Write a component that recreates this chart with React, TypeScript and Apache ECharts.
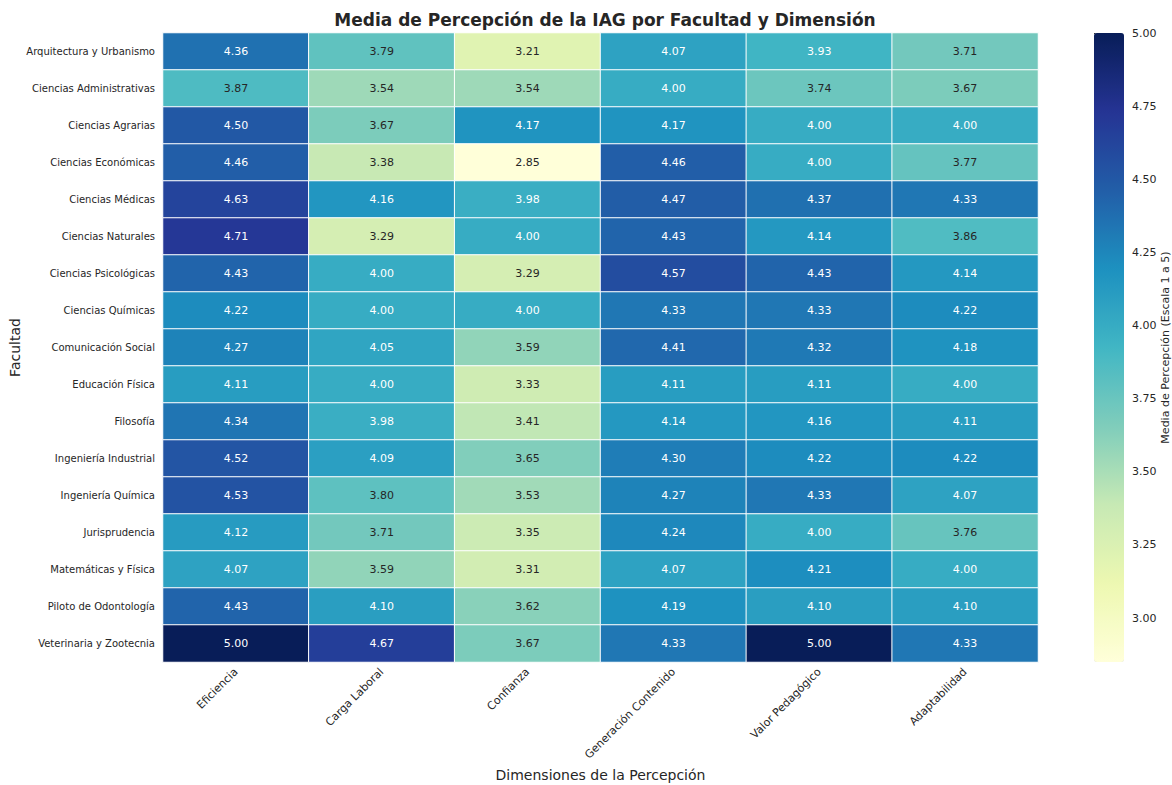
import React, { useEffect, useRef } from "react";
import * as echarts from "echarts";

const dimensions = ["Eficiencia", "Carga Laboral", "Confianza", "Generación Contenido", "Valor Pedagógico", "Adaptabilidad"];
const faculties = [
  "Arquitectura y Urbanismo",
  "Ciencias Administrativas",
  "Ciencias Agrarias",
  "Ciencias Económicas",
  "Ciencias Médicas",
  "Ciencias Naturales",
  "Ciencias Psicológicas",
  "Ciencias Químicas",
  "Comunicación Social",
  "Educación Física",
  "Filosofía",
  "Ingeniería Industrial",
  "Ingeniería Química",
  "Jurisprudencia",
  "Matemáticas y Física",
  "Piloto de Odontología",
  "Veterinaria y Zootecnia",
];
const eficiencia = [4.36, 3.87, 4.5, 4.46, 4.63, 4.71, 4.43, 4.22, 4.27, 4.11, 4.34, 4.52, 4.53, 4.12, 4.07, 4.43, 5.0];
const cargaLaboral = [3.79, 3.54, 3.67, 3.38, 4.16, 3.29, 4.0, 4.0, 4.05, 4.0, 3.98, 4.09, 3.8, 3.71, 3.59, 4.1, 4.67];
const confianza = [3.21, 3.54, 4.17, 2.85, 3.98, 4.0, 3.29, 4.0, 3.59, 3.33, 3.41, 3.65, 3.53, 3.35, 3.31, 3.62, 3.67];
const generacion = [4.07, 4.0, 4.17, 4.46, 4.47, 4.43, 4.57, 4.33, 4.41, 4.11, 4.14, 4.3, 4.27, 4.24, 4.07, 4.19, 4.33];
const valorPedagogico = [3.93, 3.74, 4.0, 4.0, 4.37, 4.14, 4.43, 4.33, 4.32, 4.11, 4.16, 4.22, 4.33, 4.0, 4.21, 4.1, 5.0];
const adaptabilidad = [3.71, 3.67, 4.0, 3.77, 4.33, 3.86, 4.14, 4.22, 4.18, 4.0, 4.11, 4.22, 4.07, 3.76, 4.0, 4.1, 4.33];
const columns = [eficiencia, cargaLaboral, confianza, generacion, valorPedagogico, adaptabilidad];
const colorbarTicks = [3.0, 3.25, 3.5, 3.75, 4.0, 4.25, 4.5, 4.75, 5.0];
const vMin = 2.85;
const vMax = 5.0;
const ylgnbu = ["#ffffd9", "#edf8b1", "#c7e9b4", "#7fcdbb", "#41b6c4", "#1d91c0", "#225ea8", "#253494", "#081d58"];

const FONT = "DejaVu Sans";
const TEXT = "#262626";

export default function App() {
  const ref = useRef<HTMLDivElement>(null);
  useEffect(() => {
    if (!ref.current) return;
    const chart = echarts.init(ref.current, null, { renderer: "svg" });
    const data: any[] = [];
    columns.forEach((col, x) => {
      col.forEach((v, y) => {
        data.push({ value: [x, y, v], label: { color: v >= 3.9 ? "#ffffff" : TEXT } });
      });
    });
    chart.setOption({
      animation: false,
      textStyle: { fontFamily: FONT },
      title: {
        text: "Media de Percepción de la IAG por Facultad y Dimensión",
        left: 600,
        textAlign: "center",
        top: 6,
        textStyle: { fontFamily: FONT, fontSize: 17, fontWeight: "bold", color: TEXT },
      },
      grid: [
        { left: 163, top: 33, width: 875, height: 629, outerBoundsMode: "none", containLabel: false },
        { left: 1094, top: 33, width: 30, height: 629, outerBoundsMode: "none", containLabel: false },
      ],
      xAxis: [
        {
          type: "category",
          gridIndex: 0,
          data: dimensions,
          position: "bottom",
          name: "Dimensiones de la Percepción",
          nameLocation: "middle",
          nameGap: 106,
          nameMoveOverlap: false,
          nameTextStyle: { fontFamily: FONT, fontSize: 14, color: TEXT },
          axisLine: { show: false },
          axisTick: { show: false },
          splitLine: { show: false },
          axisLabel: { rotate: 45, margin: 8, fontSize: 11, color: TEXT, fontFamily: FONT, interval: 0 },
        },
        { type: "value", gridIndex: 1, show: false, min: 0, max: 1 },
      ],
      yAxis: [
        {
          type: "category",
          gridIndex: 0,
          data: faculties,
          inverse: true,
          name: "Facultad",
          nameLocation: "middle",
          nameGap: 141,
          nameMoveOverlap: false,
          nameRotate: 90,
          nameTextStyle: { fontFamily: FONT, fontSize: 14, color: TEXT },
          axisLine: { show: false },
          axisTick: { show: false },
          splitLine: { show: false },
          axisLabel: { margin: 8, fontSize: 10, color: TEXT, fontFamily: FONT, interval: 0 },
        },
        {
          type: "value",
          gridIndex: 1,
          position: "right",
          min: vMin,
          max: vMax,
          name: "Media de Percepción (Escala 1 a 5)",
          nameLocation: "middle",
          nameGap: 36,
          nameMoveOverlap: false,
          nameRotate: 90,
          nameTextStyle: { fontFamily: FONT, fontSize: 11, color: TEXT },
          axisLine: { show: false },
          splitLine: { show: false },
          axisTick: { show: true, length: 4, lineStyle: { color: TEXT }, customValues: colorbarTicks },
          axisLabel: {
            fontSize: 11,
            color: TEXT,
            margin: 8,
            fontFamily: FONT,
            customValues: colorbarTicks,
            formatter: (v: number) => v.toFixed(2),
          },
        },
      ],
      visualMap: {
        type: "continuous",
        min: vMin,
        max: vMax,
        calculable: false,
        orient: "vertical",
        left: 1094,
        top: 33,
        itemWidth: 30,
        itemHeight: 629,
        padding: 0,
        seriesIndex: 0,
        inRange: { color: ylgnbu },
        hoverLink: false,
      },
      series: [
        {
          type: "heatmap",
          xAxisIndex: 0,
          yAxisIndex: 0,
          data,
          itemStyle: { borderColor: "#ffffff", borderWidth: 1 },
          label: {
            show: true,
            fontSize: 11,
            fontFamily: FONT,
            formatter: (p: any) => Number(p.value[2]).toFixed(2),
          },
        },
        { type: "line", xAxisIndex: 1, yAxisIndex: 1, data: [] },
      ],
    });
    return () => chart.dispose();
  }, []);
  return <div ref={ref} style={{ position: "absolute", left: 0, top: 0, width: 1172, height: 785 }} />;
}
